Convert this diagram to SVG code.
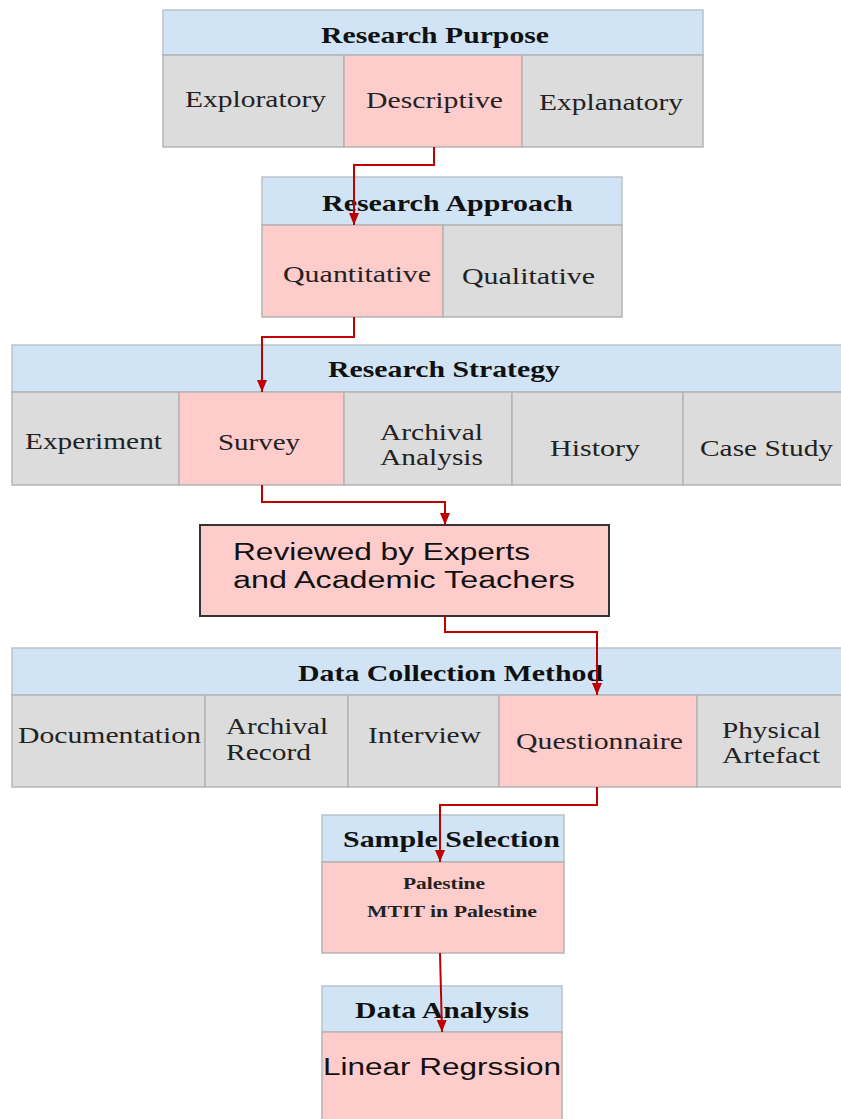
<svg xmlns="http://www.w3.org/2000/svg" width="841" height="1119" viewBox="0 0 841 1119">
<defs>
<style>
.hd{fill:#d0e4f5;stroke:#b9c3cc;stroke-width:1.5}
.gr{fill:#dcdcdc;stroke:#b4b4b4;stroke-width:1.5}
.pk{fill:#ffcccc;stroke:#b4b4b4;stroke-width:1.5}
.ht{font-family:"Liberation Serif","Times New Roman",serif;font-weight:bold;font-size:23px;fill:#111;}
.ct{font-family:"Liberation Serif","Times New Roman",serif;font-size:23px;fill:#222;}
.st{font-family:"Liberation Serif","Times New Roman",serif;font-weight:bold;font-size:16px;fill:#222;}
.sa{font-family:"Liberation Sans",Arial,sans-serif;font-size:23px;fill:#111;}
.cn{fill:none;stroke:#c00000;stroke-width:2}
</style>
<marker id="ah" viewBox="0 0 12 10" refX="12" refY="5" markerWidth="12" markerHeight="10" markerUnits="userSpaceOnUse" orient="auto">
<path d="M0,0 L12,5 L0,10 Z" fill="#c00000"/>
</marker>
</defs>
<rect width="841" height="1119" fill="#ffffff"/>

<g id="research-purpose">
<rect class="hd" x="163" y="10" width="540" height="45"/>
<text class="ht" x="321" y="43" textLength="228" lengthAdjust="spacingAndGlyphs">Research Purpose</text>
<rect class="gr" x="163" y="55" width="181" height="92"/>
<rect class="pk" x="344" y="55" width="178" height="92"/>
<rect class="gr" x="522" y="55" width="181" height="92"/>
<text class="ct" x="185" y="107" textLength="141" lengthAdjust="spacingAndGlyphs">Exploratory</text>
<text class="ct" x="366" y="108" textLength="137" lengthAdjust="spacingAndGlyphs">Descriptive</text>
<text class="ct" x="539" y="110" textLength="144" lengthAdjust="spacingAndGlyphs">Explanatory</text>
</g>

<g id="research-approach">
<rect class="hd" x="262" y="177" width="360" height="48"/>
<text class="ht" x="322" y="211" textLength="251" lengthAdjust="spacingAndGlyphs">Research Approach</text>
<rect class="pk" x="262" y="225" width="181" height="92"/>
<rect class="gr" x="443" y="225" width="179" height="92"/>
<text class="ct" x="283" y="282" textLength="148" lengthAdjust="spacingAndGlyphs">Quantitative</text>
<text class="ct" x="462" y="284" textLength="133" lengthAdjust="spacingAndGlyphs">Qualitative</text>
</g>

<g id="research-strategy">
<rect class="hd" x="12" y="345" width="835" height="47"/>
<text class="ht" x="328" y="377" textLength="232" lengthAdjust="spacingAndGlyphs">Research Strategy</text>
<rect class="gr" x="12" y="392" width="167" height="93"/>
<rect class="pk" x="179" y="392" width="165" height="93"/>
<rect class="gr" x="344" y="392" width="168" height="93"/>
<rect class="gr" x="512" y="392" width="171" height="93"/>
<rect class="gr" x="683" y="392" width="164" height="93"/>
<text class="ct" x="25" y="449" textLength="137" lengthAdjust="spacingAndGlyphs">Experiment</text>
<text class="ct" x="218" y="450" textLength="82" lengthAdjust="spacingAndGlyphs">Survey</text>
<text class="ct" x="380" y="440" textLength="103" lengthAdjust="spacingAndGlyphs">Archival</text>
<text class="ct" x="380" y="465" textLength="103" lengthAdjust="spacingAndGlyphs">Analysis</text>
<text class="ct" x="550" y="456" textLength="90" lengthAdjust="spacingAndGlyphs">History</text>
<text class="ct" x="700" y="456" textLength="133" lengthAdjust="spacingAndGlyphs">Case Study</text>
</g>

<g id="review">
<rect x="200" y="525" width="409" height="91" fill="#ffcccc" stroke="#333" stroke-width="2"/>
<text class="sa" x="233" y="560" textLength="297" lengthAdjust="spacingAndGlyphs">Reviewed by Experts</text>
<text class="sa" x="233" y="588" textLength="342" lengthAdjust="spacingAndGlyphs">and Academic Teachers</text>
</g>

<g id="data-collection">
<rect class="hd" x="12" y="648" width="835" height="47"/>
<text class="ht" x="298" y="681" textLength="305" lengthAdjust="spacingAndGlyphs">Data Collection Method</text>
<rect class="gr" x="12" y="695" width="193" height="92"/>
<rect class="gr" x="205" y="695" width="143" height="92"/>
<rect class="gr" x="348" y="695" width="151" height="92"/>
<rect class="pk" x="499" y="695" width="198" height="92"/>
<rect class="gr" x="697" y="695" width="150" height="92"/>
<text class="ct" x="18" y="743" textLength="183" lengthAdjust="spacingAndGlyphs">Documentation</text>
<text class="ct" x="226" y="734" textLength="102" lengthAdjust="spacingAndGlyphs">Archival</text>
<text class="ct" x="226" y="760" textLength="85" lengthAdjust="spacingAndGlyphs">Record</text>
<text class="ct" x="368" y="743" textLength="113" lengthAdjust="spacingAndGlyphs">Interview</text>
<text class="ct" x="516" y="749" textLength="167" lengthAdjust="spacingAndGlyphs">Questionnaire</text>
<text class="ct" x="722" y="738" textLength="99" lengthAdjust="spacingAndGlyphs">Physical</text>
<text class="ct" x="722" y="763" textLength="98" lengthAdjust="spacingAndGlyphs">Artefact</text>
</g>

<g id="sample-selection">
<rect class="hd" x="322" y="815" width="242" height="47"/>
<text class="ht" x="343" y="847" textLength="217" lengthAdjust="spacingAndGlyphs">Sample Selection</text>
<rect class="pk" x="322" y="862" width="242" height="91"/>
<text class="st" x="403" y="889" textLength="82" lengthAdjust="spacingAndGlyphs">Palestine</text>
<text class="st" x="367" y="917" textLength="170" lengthAdjust="spacingAndGlyphs">MTIT in Palestine</text>
</g>

<g id="data-analysis">
<rect class="hd" x="322" y="986" width="240" height="46"/>
<text class="ht" x="355" y="1018" textLength="174" lengthAdjust="spacingAndGlyphs">Data Analysis</text>
<rect class="pk" x="322" y="1032" width="240" height="92"/>
<text class="sa" x="323" y="1075" font-size="25" textLength="238" lengthAdjust="spacingAndGlyphs">Linear Regrssion</text>
</g>

<g id="connectors">
<path class="cn" d="M434,147 V165 H354 V225" marker-end="url(#ah)"/>
<path class="cn" d="M354,317 V337 H262 V392" marker-end="url(#ah)"/>
<path class="cn" d="M262,485 V502 H445 V525" marker-end="url(#ah)"/>
<path class="cn" d="M445,616 V632 H597 V695" marker-end="url(#ah)"/>
<path class="cn" d="M597,787 V805 H440 V862" marker-end="url(#ah)"/>
<path class="cn" d="M440,953 L442,1032" marker-end="url(#ah)"/>
</g>
</svg>
